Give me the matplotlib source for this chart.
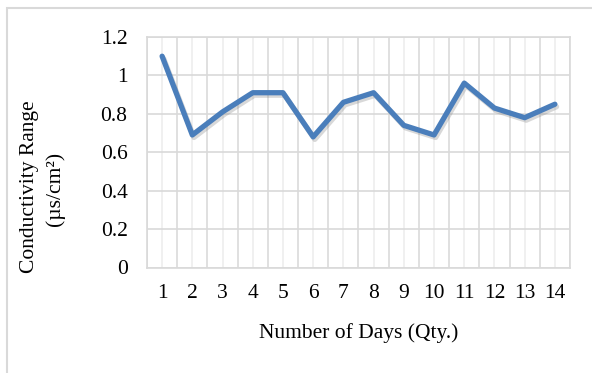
import matplotlib.pyplot as plt
import matplotlib.patheffects as pe
from matplotlib.patches import Rectangle
from matplotlib.ticker import MultipleLocator

days = [1, 2, 3, 4, 5, 6, 7, 8, 9, 10, 11, 12, 13, 14]
conductivity = [1.10, 0.69, 0.81, 0.91, 0.91, 0.68, 0.86, 0.91, 0.74, 0.69, 0.96, 0.83, 0.78, 0.85]
y_ticks = [0, 0.2, 0.4, 0.6, 0.8, 1.0, 1.2]
y_tick_labels = ["0", "0.2", "0.4", "0.6", "0.8", "1", "1.2"]

plt.rcParams['font.family'] = ['Liberation Serif', 'DejaVu Serif']

W, H = 592, 373
fig = plt.figure(figsize=(W / 100, H / 100), dpi=100)

# chart area border (open to right/bottom, cropped in the original)
fig.patches.append(Rectangle((7 / W, -0.1), 1.1, 1 - 8 / H + 0.1, transform=fig.transFigure,
                             fill=False, edgecolor="#D9D9D9", linewidth=1.5))

ax = fig.add_axes([147 / W, 1 - 267.5 / H, (570 - 147) / W, (267.5 - 37) / H])

ax.plot(days, conductivity, color="#4A7EBB", linewidth=3.8, solid_capstyle="round",
        solid_joinstyle="round",
        path_effects=[pe.SimpleLineShadow(offset=(1.2, -1.8), shadow_color="gray", alpha=0.3),
                      pe.Normal()])

ax.set_xlim(0.5, 14.5)
ax.set_ylim(0, 1.2)
ax.set_xticks(days)
ax.set_xticklabels([str(d) for d in days])
ax.xaxis.set_minor_locator(MultipleLocator(1, offset=0.5))
ax.set_yticks(y_ticks)
ax.set_yticklabels(y_tick_labels)

ax.grid(axis="y", color="#D9D9D9", linewidth=1.2)
ax.grid(axis="x", which="major", color="#EDEDED", linewidth=1.2)
ax.grid(axis="x", which="minor", color="#DADADA", linewidth=1.2)
ax.set_axisbelow(True)

for s in ax.spines.values():
    s.set_color("#D9D9D9")
    s.set_linewidth(1.2)

ax.tick_params(axis="both", which="both", length=0, labelsize=15.5)
ax.tick_params(axis="y", pad=14)
ax.tick_params(axis="x", pad=12)

ax.set_xlabel("Number of Days (Qty.)", fontsize=15.5, labelpad=14)
fig.text(30 / W, 1 - 187 / H, "Conductivity Range", rotation=90,
         ha="center", va="center", fontsize=15.5)
fig.text(55 / W, 1 - 189 / H, "(µs/cm²)", rotation=90,
         ha="center", va="center", fontsize=15.5)

fig.savefig("out.png", dpi=100)
